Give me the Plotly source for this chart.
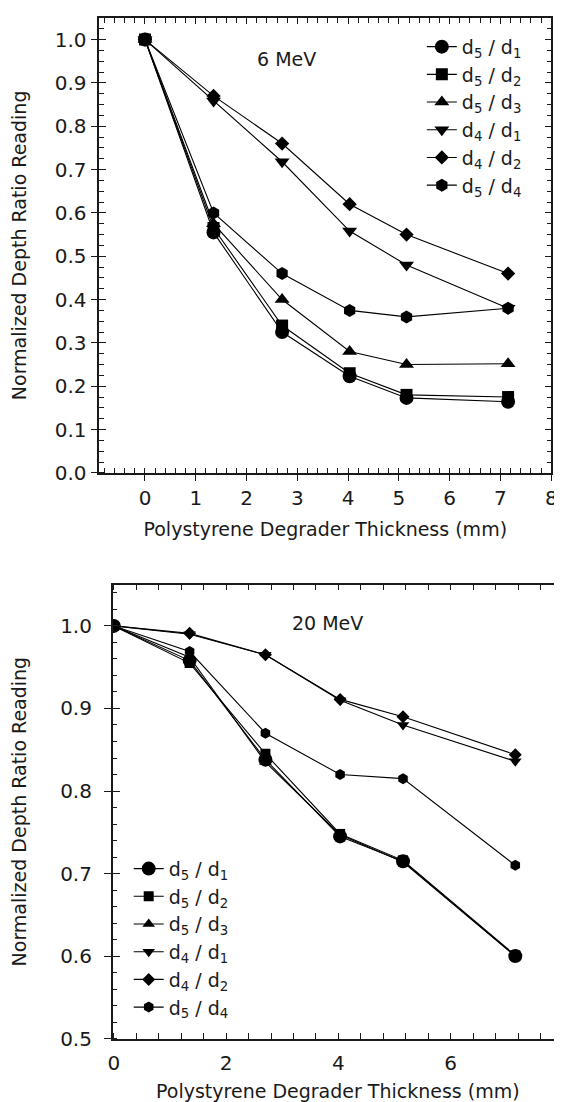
import plotly.graph_objects as go

# ---------------- data ----------------
thickness = [0, 1.35, 2.7, 4.03, 5.15, 7.15]
series_names = ["d<sub>5</sub> / d<sub>1</sub>", "d<sub>5</sub> / d<sub>2</sub>",
                "d<sub>5</sub> / d<sub>3</sub>", "d<sub>4</sub> / d<sub>1</sub>",
                "d<sub>4</sub> / d<sub>2</sub>", "d<sub>5</sub> / d<sub>4</sub>"]

# 6 MeV
mev6_d5_d1 = [1.0, 0.555, 0.325, 0.223, 0.173, 0.164]
mev6_d5_d2 = [1.0, 0.565, 0.340, 0.230, 0.180, 0.175]
mev6_d5_d3 = [1.0, 0.575, 0.400, 0.280, 0.250, 0.252]
mev6_d4_d1 = [1.0, 0.858, 0.718, 0.558, 0.480, 0.380]
mev6_d4_d2 = [1.0, 0.870, 0.760, 0.620, 0.550, 0.460]
mev6_d5_d4 = [1.0, 0.600, 0.460, 0.375, 0.360, 0.380]

# 20 MeV
mev20_d5_d1 = [1.0, 0.958, 0.838, 0.745, 0.715, 0.600]
mev20_d5_d2 = [1.0, 0.955, 0.845, 0.748, 0.716, 0.601]
mev20_d5_d3 = [1.0, 0.962, 0.835, 0.747, 0.714, 0.600]
mev20_d4_d1 = [1.0, 0.990, 0.965, 0.910, 0.880, 0.836]
mev20_d4_d2 = [1.0, 0.991, 0.965, 0.911, 0.890, 0.844]
mev20_d5_d4 = [1.0, 0.969, 0.870, 0.820, 0.815, 0.710]

top_series = [mev6_d5_d1, mev6_d5_d2, mev6_d5_d3, mev6_d4_d1, mev6_d4_d2, mev6_d5_d4]
bot_series = [mev20_d5_d1, mev20_d5_d2, mev20_d5_d3, mev20_d4_d1, mev20_d4_d2, mev20_d5_d4]

# ---------------- style ----------------
symbols = ["circle", "square", "triangle-up", "triangle-down", "diamond", "hexagon"]
sizes_top = [14, 12, 13, 13, 11, 13]
sizes_bot = [14, 10, 11, 11, 10, 11]
FONT = "DejaVu Sans"
INK = "#1a1a1a"
FS = 19
TFS = 20

fig = go.Figure()

for name, ys, sym, sz in zip(series_names, top_series, symbols, sizes_top):
    fig.add_trace(go.Scatter(
        x=thickness, y=ys, name=name, mode="lines+markers",
        line=dict(color="black", width=1.1),
        marker=dict(symbol=sym, size=sz, color="black"),
        xaxis="x", yaxis="y", legend="legend"))

for name, ys, sym, sz in zip(series_names, bot_series, symbols, sizes_bot):
    fig.add_trace(go.Scatter(
        x=thickness, y=ys, name=name, mode="lines+markers",
        line=dict(color="black", width=1.1),
        marker=dict(symbol=sym, size=sz, color="black"),
        xaxis="x3", yaxis="y4", legend="legend2"))

# empty helper traces so the overlay (frame) axes exist
for xa, ya in [("x2", "y"), ("x", "y2"), ("x", "y3"), ("x4", "y4"), ("x3", "y5"), ("x3", "y6")]:
    fig.add_trace(go.Scatter(x=[None], y=[None], xaxis=xa, yaxis=ya,
                             showlegend=False, hoverinfo="skip"))

W, H = 562, 1102
top_x = [88 / W, 549 / W]
top_y = [(H - 470) / H, (H - 10) / H]
bot_x = [101.7 / W, 561 / W]
bot_y = [(H - 1042) / H, (H - 583) / H]

tick_font = dict(family=FONT, size=TFS, color=INK)
title_font = dict(family=FONT, size=FS, color=INK)
LW = 1.5


def minor(dt, length, t0=0):
    return dict(dtick=dt, tick0=t0, ticks="inside", ticklen=length, tickwidth=1.2, tickcolor=INK, showgrid=False)


common = dict(showgrid=False, zeroline=False, linecolor=INK, linewidth=LW,
              tickcolor=INK, tickwidth=1.3, tickfont=tick_font)

TOP_XR = [-0.9, 8.0]
TOP_YR = [0.0, 1.05]
BOT_XR = [-0.02, 8.0]
BOT_YR = [0.5, 1.05]

fig.update_layout(
    width=W, height=H,
    margin=dict(l=0, r=0, t=0, b=0),
    paper_bgcolor="white", plot_bgcolor="white",
    font=dict(family=FONT, size=FS, color=INK),
    # ---- top (6 MeV) ----
    xaxis=dict(common, domain=top_x, range=TOP_XR, anchor="y", dtick=1, tick0=0,
               ticks="outside", ticklen=6, showline=True, showticklabels=True,
               minor=minor(0.2, 5),
               title=dict(text="Polystyrene Degrader Thickness (mm)", font=title_font, standoff=14)),
    xaxis2=dict(common, domain=top_x, range=TOP_XR, anchor="y", overlaying="x", side="top",
                dtick=1, tick0=0, ticks="inside", ticklen=6, showline=True, showticklabels=False,
                minor=minor(0.2, 5)),
    yaxis=dict(common, domain=top_y, range=TOP_YR, anchor="x", dtick=0.1, tick0=0,
               tickformat=".1f", ticks="outside", ticklen=7, showline=True,
               minor=minor(0.025, 5),
               title=dict(text="Normalized Depth Ratio Reading", font=title_font, standoff=24)),
    yaxis2=dict(common, domain=top_y, range=TOP_YR, anchor="x", overlaying="y", side="left",
                dtick=0.1, tick0=0, ticks="inside", ticklen=7, showline=False, showticklabels=False),
    yaxis3=dict(common, domain=top_y, range=TOP_YR, anchor="x", overlaying="y", side="right",
                dtick=0.1, tick0=0, ticks="inside", ticklen=7, showline=True, showticklabels=False,
                minor=minor(0.025, 5)),
    # ---- bottom (20 MeV) ----
    xaxis3=dict(common, domain=bot_x, range=BOT_XR, anchor="y4", dtick=2, tick0=0,
                ticks="inside", ticklen=6, showline=True, showticklabels=True,
                ticklabelstandoff=6, minor=minor(0.4, 6),
                title=dict(text="Polystyrene Degrader Thickness (mm)", font=title_font, standoff=10)),
    xaxis4=dict(common, domain=bot_x, range=BOT_XR, anchor="y4", overlaying="x3", side="top",
                dtick=0.4, tick0=0, ticks="inside", ticklen=6, showline=True, showticklabels=False),
    yaxis4=dict(common, domain=bot_y, range=BOT_YR, anchor="x3", dtick=0.1, tick0=0.5,
                tickformat=".1f", ticks="outside", ticklen=7, showline=True,
                ticklabelstandoff=8, minor=minor(0.02, 5, 0.5),
                title=dict(text="Normalized Depth Ratio Reading", font=title_font, standoff=30)),
    yaxis5=dict(common, domain=bot_y, range=BOT_YR, anchor="x3", overlaying="y4", side="left",
                dtick=0.1, tick0=0.5, ticks="inside", ticklen=7, showline=False, showticklabels=False),
    yaxis6=dict(common, domain=bot_y, range=BOT_YR, anchor="x3", overlaying="y4", side="right",
                dtick=0.1, tick0=0.5, ticks="inside", ticklen=7, showline=True, showticklabels=False,
                minor=minor(0.02, 4, 0.5)),
    legend=dict(x=0.742, y=(H - 20) / H, xanchor="left", yanchor="top",
                bgcolor="rgba(0,0,0,0)", font=dict(family=FONT, size=FS, color=INK),
                tracegroupgap=0),
    legend2=dict(x=0.21, y=(H - 851) / H, xanchor="left", yanchor="top",
                 bgcolor="rgba(0,0,0,0)", font=dict(family=FONT, size=FS, color=INK),
                 tracegroupgap=0),
    showlegend=True,
    annotations=[
        dict(text="6 MeV", x=2.78, y=0.955, xref="x", yref="y", showarrow=False,
             font=dict(family=FONT, size=FS, color=INK)),
        dict(text="20 MeV", x=3.8, y=1.004, xref="x3", yref="y4", showarrow=False,
             font=dict(family=FONT, size=FS, color=INK)),
    ],
)

fig.write_html("out.html")
